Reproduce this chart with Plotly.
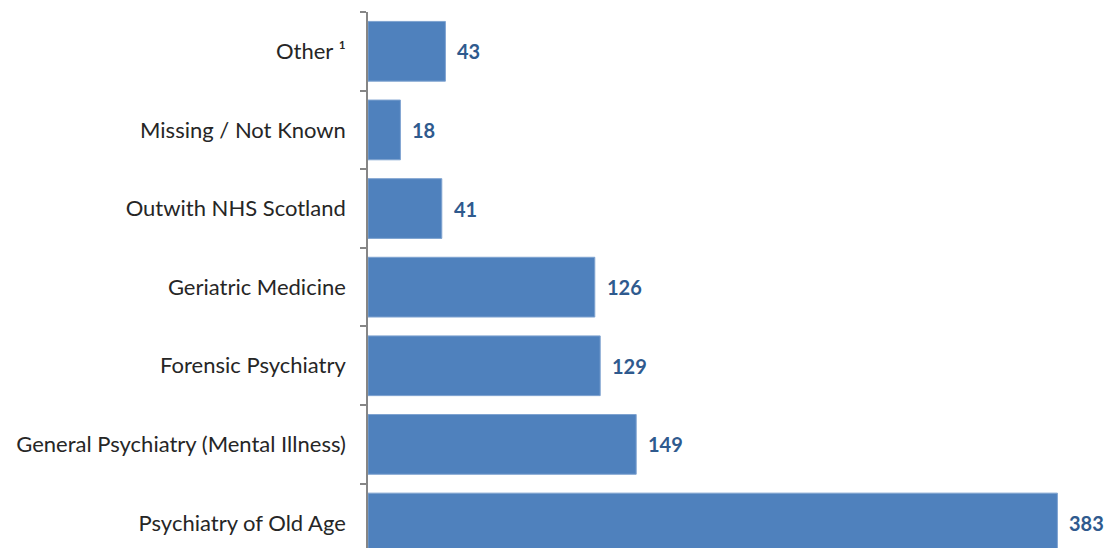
import plotly.graph_objects as go

categories = ["Psychiatry of Old Age", "General Psychiatry (Mental Illness)", "Forensic Psychiatry",
              "Geriatric Medicine", "Outwith NHS Scotland", "Missing / Not Known", "Other ¹"]
values = [383, 149, 129, 126, 41, 18, 43]

fig = go.Figure()
fig.add_trace(go.Bar(
    x=values, y=categories, orientation="h",
    marker=dict(color="#4F81BD", line=dict(color="#7FA3D0", width=1)),
    width=0.76, hoverinfo="skip",
))
for c, v in zip(categories, values):
    fig.add_annotation(x=v, y=c, text="<b>%d</b>" % v, showarrow=False,
                       xanchor="left", xshift=10,
                       font=dict(family="Lato, Carlito, sans-serif", size=20, color="#2F5A8E"))

fig.update_layout(
    width=1104, height=540,
    margin=dict(l=360, r=24, t=4, b=0),
    paper_bgcolor="white", plot_bgcolor="white",
    showlegend=False,
    font=dict(family="Lato, Carlito, sans-serif", size=22, color="#262626"),
)
fig.update_xaxes(range=[0, 400], visible=False, showgrid=False, zeroline=False)
fig.update_yaxes(
    type="category", categoryorder="array", categoryarray=categories,
    range=[-0.318, 6.5],
    showline=True, linecolor="#868686", linewidth=1.5,
    ticks="outside", tickson="boundaries", ticklen=6, tickcolor="#868686", tickwidth=1.5,
    ticklabelstandoff=16, showgrid=False, zeroline=False,
)

fig.write_html("out.html")
